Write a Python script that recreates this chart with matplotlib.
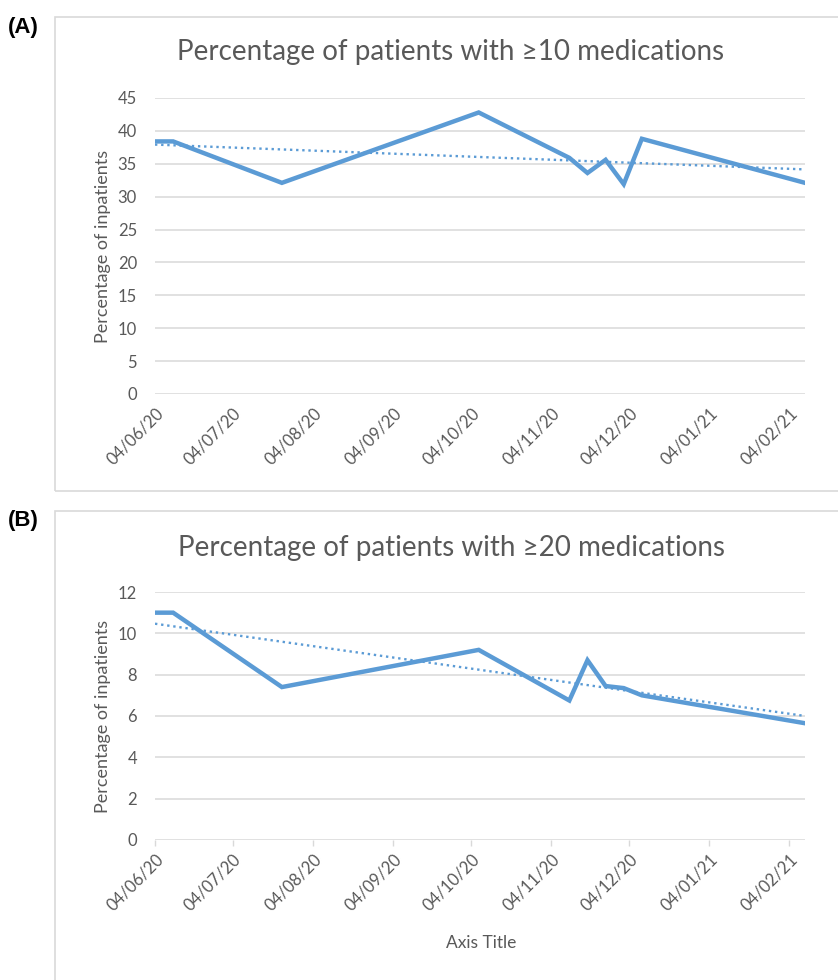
import numpy as np
import matplotlib
matplotlib.use("Agg")
import matplotlib.pyplot as plt
import matplotlib.dates as mdates
from matplotlib.patches import Rectangle
from datetime import date

# data
dates = ["2020-06-04", "2020-06-11", "2020-07-23", "2020-10-07", "2020-11-11",
         "2020-11-18", "2020-11-25", "2020-12-02", "2020-12-09", "2021-02-10"]
pct_10 = [38.4, 38.4, 32.1, 42.8, 35.9, 33.6, 35.6, 31.9, 38.8, 32.1]
pct_20 = [11.0, 11.0, 7.4, 9.2, 6.75, 8.7, 7.45, 7.35, 7.0, 5.65]
tick_dates = ["2020-06-04", "2020-07-04", "2020-08-04", "2020-09-04", "2020-10-04",
              "2020-11-04", "2020-12-04", "2021-01-04", "2021-02-04"]
titles = ["Percentage of patients with \u226510 medications",
          "Percentage of patients with \u226520 medications"]
ylabel = "Percentage of inpatients"

BLUE = "#5b9bd5"
GRID = "#d9d9d9"
TXT = "#595959"
FONT = ["Lato", "DejaVu Sans"]

plt.rcParams['font.family'] = FONT

W, H = 838, 980
fig = plt.figure(figsize=(W / 100, H / 100), dpi=100)

x = mdates.date2num([date.fromisoformat(d) for d in dates])
xt = mdates.date2num([date.fromisoformat(d) for d in tick_dates])


def px_axes(left, top, right, bottom):
    return fig.add_axes([left / W, 1 - bottom / H, (right - left) / W, (bottom - top) / H])


def panel(ax, y, ymax, ystep, with_ticks):
    ax.plot(x, y, color=BLUE, lw=3.2, solid_joinstyle="miter", zorder=3)
    # linear trendline as in Excel
    k, b = np.polyfit(x - x[0], y, 1)
    ax.plot([x[0], x[-1]], [b, b + k * (x[-1] - x[0])], color=BLUE, lw=1.7,
            linestyle=(0, (1, 1.6)), zorder=2)
    ax.set_xlim(x[0], x[-1])
    ax.set_ylim(0, ymax)
    ax.set_yticks(np.arange(0, ymax + 0.1, ystep))
    ax.set_xticks(xt)
    ax.xaxis.set_major_formatter(mdates.DateFormatter("%d/%m/%y"))
    ax.grid(axis="y", color=GRID, lw=1.1)
    ax.set_axisbelow(True)
    for s in ax.spines.values():
        s.set_visible(False)
    ax.tick_params(axis="y", length=0, pad=13, labelsize=12, labelcolor=TXT)
    if with_ticks:
        ax.tick_params(axis="x", length=4, width=1, color=GRID, pad=4,
                       labelsize=12, labelcolor=TXT)
    else:
        ax.tick_params(axis="x", length=0, pad=8, labelsize=12, labelcolor=TXT)
    for lab in ax.get_xticklabels():
        lab.set_rotation(45)
        lab.set_ha("right")
        lab.set_va("top")
        lab.set_rotation_mode("anchor")
    ax.set_ylabel(ylabel, fontsize=13, color=TXT, labelpad=5)


# panel frames
for top, bottom in [(17, 491), (511, 990)]:
    fig.patches.append(Rectangle((55, H - bottom), 800, bottom - top,
                                 transform=None, fill=False, edgecolor=GRID, lw=1.2))

axA = px_axes(155, 98, 805, 394)
panel(axA, pct_10, 45, 5, False)
axB = px_axes(155, 592, 805, 840)
panel(axB, pct_20, 12, 2, True)

fig.text(451 / W, 1 - 52 / H, titles[0], ha="center", va="center", fontsize=20, color=TXT)
fig.text(451 / W, 1 - 548 / H, titles[1], ha="center", va="center", fontsize=20, color=TXT)
fig.text(8 / W, 1 - 27 / H, "(A)", ha="left", va="center", fontsize=16,
         fontweight="bold", family=["Liberation Sans", "DejaVu Sans"])
fig.text(8 / W, 1 - 520 / H, "(B)", ha="left", va="center", fontsize=16,
         fontweight="bold", family=["Liberation Sans", "DejaVu Sans"])
fig.text(481 / W, 1 - 943 / H, "Axis Title", ha="center", va="center", fontsize=12.5, color=TXT)

fig.savefig("out.png", dpi=100)
